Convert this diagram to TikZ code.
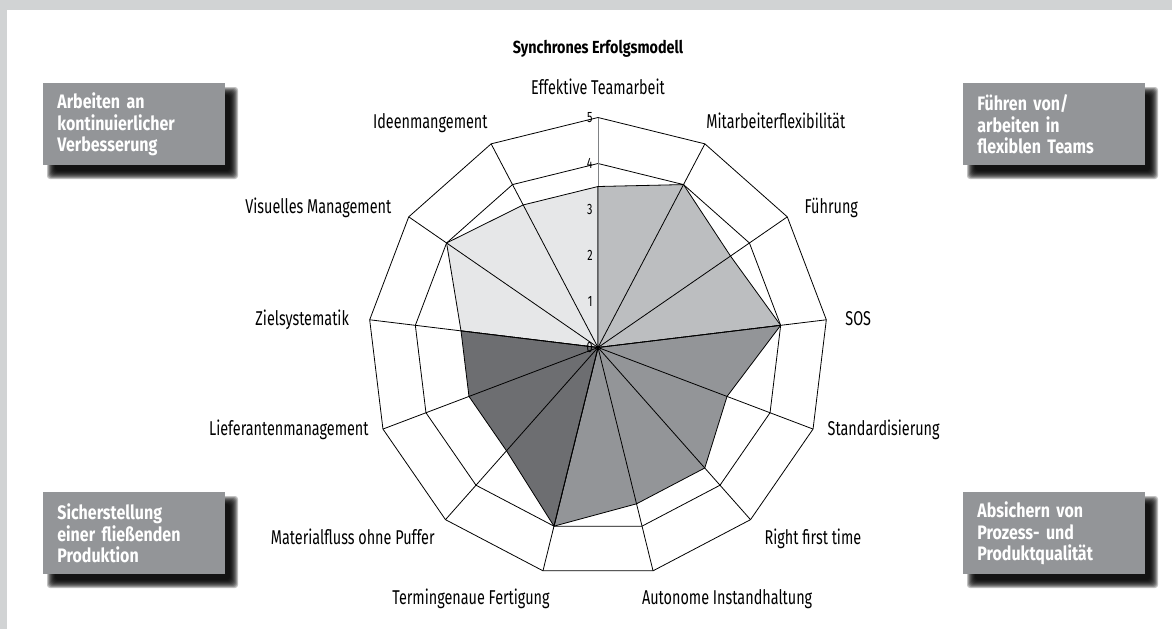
\documentclass[tikz,border=0pt]{standalone}
\usepackage{fontspec}
\setmainfont{Fira Sans}[FakeStretch=0.72, BoldFeatures={FakeStretch=0.82}]
\definecolor{framegray}{HTML}{D1D3D4}
\definecolor{boxgray}{HTML}{939598}
\definecolor{cLight}{HTML}{E6E7E8}
\definecolor{cMedLight}{HTML}{BCBEC0}
\definecolor{cMed}{HTML}{939598}
\definecolor{cDark}{HTML}{6D6E71}
\definecolor{axisgray}{HTML}{808285}
\newcommand\myboxshadow[4]{%
  \foreach \e in {6,5,4,3,2,1,0,-1,-2}{%
    \fill[black, opacity=0.24, rounded corners=3pt] ({#1+10-\e},{#2+10-\e}) rectangle ({#3+7+\e},{#4+8+\e});
  }%
}
\begin{document}
\begin{tikzpicture}[x=1pt,y=-1pt,line width=0.8pt,
  lbl/.style={font=\fontsize{20}{22}\selectfont, inner sep=0pt},
  tick/.style={font=\fontsize{15}{16}\selectfont, inner sep=0pt, anchor=east},
  catbox/.style={fill=boxgray, text=white, font=\fontsize{19.5}{21.5}\selectfont\bfseries,
    align=left, anchor=north west, inner xsep=14pt, inner ysep=0pt,
    text width=154pt, minimum width=182pt, minimum height=82pt},
  ring/.style={draw=black, line width=0.8pt},
  spoke/.style={draw=black, line width=0.8pt},
  area/.style={draw=black, line width=0.8pt, line join=round}]
\useasboundingbox (0,0) rectangle (1172,629);
\fill[framegray] (0,0) rectangle (1172,629);
\fill[white] (7,10) rectangle (1172,629);

% title
\node[inner sep=0pt, font=\fontsize{17.5}{20}\selectfont\bfseries, anchor=base] (title) at (598,53) {Synchrones Erfolgsmodell};

% category boxes with shadows
\myboxshadow{43}{83}{225}{165}
\myboxshadow{963}{83}{1145}{165}
\myboxshadow{43}{492}{225}{574}
\myboxshadow{963}{492}{1145}{574}
\node[catbox] (b1) at (43,83) {Arbeiten an\\kontinuierlicher\\Verbesserung};
\node[catbox] (b2) at (963,83) {Führen von/\\arbeiten in\\flexiblen Teams};
\node[catbox] (b3) at (43,492) {Sicherstellung\\einer fließenden\\Produktion};
\node[catbox] (b4) at (963,492) {Absichern von\\Prozess- und\\Produktqualität};

% radar geometry
\coordinate (c) at (598,347.5);
\foreach \lv in {4,5}{
  \foreach \k in {0,...,12}{
    \coordinate (r\lv-\k) at ({598+46*\lv*cos(90-\k*360/13)},{347.5-46*\lv*sin(90-\k*360/13)});
  }
}
\foreach \k/\v in {0/3.5,1/4,2/3.5,3/4,4/3,5/3.5,6/3.5,7/4,8/3,9/3,10/3,11/4,12/3.5}{
  \coordinate (d\k) at ({598+46*\v*cos(90-\k*360/13)},{347.5-46*\v*sin(90-\k*360/13)});
}

% rings
\draw[ring] (r4-0) \foreach \k in {1,...,12}{ -- (r4-\k)} -- cycle;
\draw[ring] (r5-0) \foreach \k in {1,...,12}{ -- (r5-\k)} -- cycle;

% value axis
\draw[axisgray, line width=1pt] (c) -- (r5-0);

% data areas
\filldraw[area, fill=cLight] (c) -- (d10) -- (d11) -- (d12) -- (d0) -- cycle;
\filldraw[area, fill=cMedLight] (c) -- (d0) -- (d1) -- (d2) -- (d3) -- cycle;
\filldraw[area, fill=cMed] (c) -- (d3) -- (d4) -- (d5) -- (d6) -- (d7) -- cycle;
\filldraw[area, fill=cDark] (c) -- (d7) -- (d8) -- (d9) -- (d10) -- cycle;

% spokes
\foreach \k in {1,...,12}{
  \draw[spoke] (c) -- (r5-\k);
}

% tick labels
\foreach \i in {0,...,5}{
  \node[tick] (t\i) at (593,{347.5-46*\i}) {\i};
}

% axis labels
\node[lbl, anchor=base] (l0) at (598,94.5) {Effektive Teamarbeit};
\node[lbl, anchor=base west] (l1) at (706,128.2) {Mitarbeiterflexibilität};
\node[lbl, anchor=base west] (l2) at (804.3,213.2) {Führung};
\node[lbl, anchor=base west] (l3) at (845,325.8) {SOS};
\node[lbl, anchor=base west] (l4) at (827.3,435.8) {Standardisierung};
\node[lbl, anchor=base west] (l5) at (764.3,544.8) {Right first time};
\node[lbl, anchor=base west] (l6) at (641.7,604.8) {Autonome Instandhaltung};
\node[lbl, anchor=base east] (l7) at (550,604.8) {Termingenaue Fertigung};
\node[lbl, anchor=base east] (l8) at (435,544.8) {Materialfluss ohne Puffer};
\node[lbl, anchor=base east] (l9) at (369,435.8) {Lieferantenmanagement};
\node[lbl, anchor=base east] (l10) at (349.3,325.8) {Zielsystematik};
\node[lbl, anchor=base east] (l11) at (391.7,213.2) {Visuelles Management};
\node[lbl, anchor=base east] (l12) at (488,128.5) {Ideenmangement};
\end{tikzpicture}
\end{document}
